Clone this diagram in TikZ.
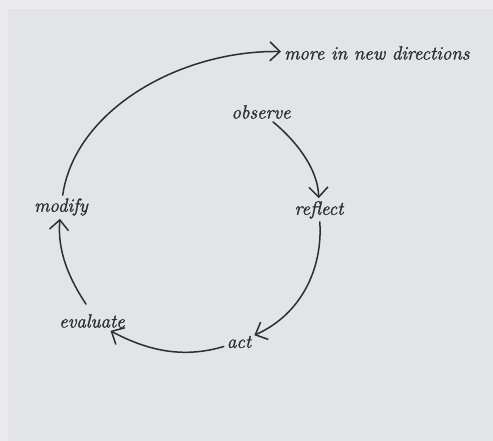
\documentclass[tikz,border=0pt]{standalone}
\usepackage{fontspec}
\newfontfamily\lblfont[FakeBold=1.6]{Latin Modern Roman}
\usetikzlibrary{arrows.meta}
\definecolor{bgmain}{HTML}{E3E4E6}
\definecolor{bgedge}{HTML}{ECECEE}
\definecolor{ink}{HTML}{2E2E30}
\begin{document}
\begin{tikzpicture}[x=1pt,y=-1pt,
  lbl/.style={text=ink,font=\lblfont\fontsize{19}{21}\selectfont\itshape,inner sep=3pt},
  arr/.style={draw=ink,line width=1.5pt,line cap=round,
    -{Straight Barb[length=10pt,width=19pt,line width=1.5pt]}}]
\fill[bgedge] (0,0) rectangle (493,441);
\fill[bgmain] (8,9) rectangle (493,441);
\useasboundingbox (0,0) rectangle (493,441);
\node[lbl,anchor=west] (more) at (281,53) {more in new directions};
\node[lbl] (observe) at (261,112) {observe};
\node[lbl] (reflect) at (319,210) {reflect};
\node[lbl] (act) at (239,342) {act};
\node[lbl] (evaluate) at (92,321) {evaluate};
\node[lbl] (modify) at (61,207) {modify};
\draw[arr] (observe) .. controls (295,140) and (318,168) .. (reflect);
\draw[arr] (reflect) .. controls (323,270) and (300,315) .. (act);
\draw[arr] (act) .. controls (185,358) and (150,352) .. (evaluate);
\draw[arr] ([xshift=-6pt,yshift=7pt]evaluate.north) .. controls (70,280) and (57,252) .. (modify);
\draw[arr] (modify) .. controls (75,110) and (180,50) .. (more);
\end{tikzpicture}
\end{document}
